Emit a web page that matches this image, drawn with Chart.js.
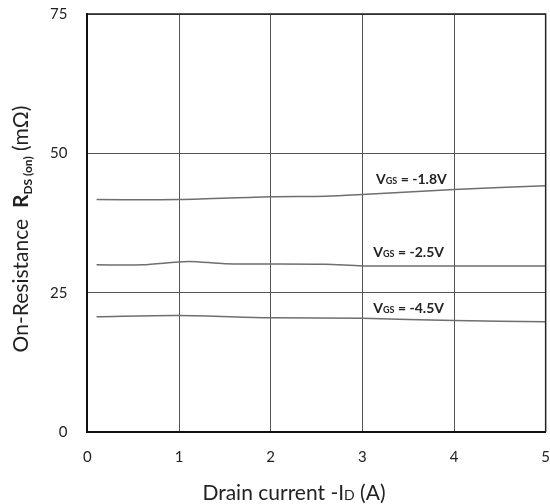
<!DOCTYPE html>
<html>
<head>
<meta charset="utf-8">
<script src="https://cdn.jsdelivr.net/npm/chart.js@4"></script>
<style>
  html, body { margin: 0; padding: 0; background: #fff; }
  #wrap { width: 550px; height: 504px; }
</style>
</head>
<body>
<div id="wrap"><canvas id="chart" width="550" height="504"></canvas></div>
<script>
"use strict";

// ── Data ───────────────────────────────────────────────────────────── //
const seriesNames = ["-1.8V", "-2.5V", "-4.5V"];

const idVgs18   = [0.1, 1.0, 2.0, 2.6, 3.0, 4.0, 5.0];
const rdsVgs18  = [41.7, 41.7, 42.2, 42.3, 42.6, 43.5, 44.2];

const idVgs25   = [0.1, 0.6, 1.1, 1.5, 2.6, 3.0, 4.0, 5.0];
const rdsVgs25  = [30.0, 30.0, 30.6, 30.2, 30.1, 29.8, 29.8, 29.8];

const idVgs45   = [0.1, 1.0, 2.0, 3.0, 4.0, 5.0];
const rdsVgs45  = [20.7, 20.9, 20.5, 20.4, 20.0, 19.8];

const xTicks = [0, 1, 2, 3, 4, 5];
const yTicks = [0, 25, 50, 75];

// where the V_GS notes sit, in data units
const noteX = [3.15, 3.12, 3.12];
const noteY = [45.4, 32.3, 22.3];

// ── Helpers ────────────────────────────────────────────────────────── //
const FONT = "Lato, 'Open Sans', sans-serif";
const toPoints = (xs, ys) => xs.map((x, i) => ({ x, y: ys[i] }));

function drawParts(ctx, parts, x, y) {
  // parts: [{ text, font, dy }] drawn left to right from x on baseline y
  let cx = x;
  parts.forEach(p => {
    ctx.font = p.font;
    ctx.fillText(p.text, cx, y + (p.dy || 0));
    cx += ctx.measureText(p.text).width;
  });
}

function partsWidth(ctx, parts) {
  return parts.reduce((w, p) => { ctx.font = p.font; return w + ctx.measureText(p.text).width; }, 0);
}

// ── Rich text plugin: axis titles + curve notes ────────────────────── //
const richText = {
  id: "richText",
  afterDraw(chart) {
    const { ctx, scales } = chart;
    ctx.save();
    ctx.fillStyle = "#222";
    ctx.textBaseline = "alphabetic";

    // x title
    const xParts = [
      { text: "Drain current -I", font: `21px ${FONT}` },
      { text: "D", font: `14px ${FONT}` },
      { text: " (A)", font: `21px ${FONT}` },
    ];
    const xw = partsWidth(ctx, xParts);
    drawParts(ctx, xParts, 294 - xw / 2, 500);

    // y title, rotated
    const yParts = [
      { text: "On-Resistance  ", font: `21px ${FONT}` },
      { text: "R", font: `bold 21px ${FONT}` },
      { text: "DS (on)", font: `bold 12px ${FONT}`, dy: 4 },
      { text: " (mΩ)", font: `21px ${FONT}` },
    ];
    const yw = partsWidth(ctx, yParts);
    ctx.save();
    ctx.translate(28, 229);
    ctx.rotate(-Math.PI / 2);
    drawParts(ctx, yParts, -yw / 2, 0);
    ctx.restore();

    // V_GS notes
    seriesNames.forEach((name, i) => {
      const px = scales.x.getPixelForValue(noteX[i]);
      const py = scales.y.getPixelForValue(noteY[i]);
      drawParts(ctx, [
        { text: "V", font: `bold 14px ${FONT}` },
        { text: "GS", font: `bold 9px ${FONT}` },
        { text: " = " + name, font: `bold 14px ${FONT}` },
      ], px, py + 5);
    });

    ctx.restore();
  },
};

// ── Chart ──────────────────────────────────────────────────────────── //
const lineStyle = {
  borderColor: "#6e6e6e",
  borderWidth: 1.5,
  pointRadius: 0,
  tension: 0.3,
  fill: false,
};

// transparent tick marks give the label gap without padding the chart edges
const gridStyle = (len) => ({
  color: "#555", lineWidth: 1, drawTicks: true, tickLength: len, tickColor: "rgba(0,0,0,0)",
});

new Chart(document.getElementById("chart"), {
  type: "scatter",
  data: {
    datasets: [
      { label: seriesNames[0], data: toPoints(idVgs18, rdsVgs18), showLine: true, ...lineStyle },
      { label: seriesNames[1], data: toPoints(idVgs25, rdsVgs25), showLine: true, ...lineStyle },
      { label: seriesNames[2], data: toPoints(idVgs45, rdsVgs45), showLine: true, ...lineStyle },
    ],
  },
  options: {
    responsive: false,
    animation: false,
    layout: { autoPadding: false, padding: { left: 50, right: 0, top: 14, bottom: 38 } },
    plugins: {
      legend: { display: false },
      tooltip: { enabled: false },
    },
    scales: {
      x: {
        type: "linear",
        min: 0, max: 5,
        afterBuildTicks: axis => { axis.ticks = xTicks.map(v => ({ value: v })); },
        ticks: { color: "#222", font: { family: FONT, size: 15 }, padding: 0, maxRotation: 0 },
        grid: gridStyle(16),
        border: { color: "#111", width: 2 },
      },
      y: {
        type: "linear",
        min: 0, max: 75,
        afterBuildTicks: axis => { axis.ticks = yTicks.map(v => ({ value: v })); },
        ticks: { color: "#222", font: { family: FONT, size: 15 }, padding: 0 },
        grid: gridStyle(20),
        border: { color: "#111", width: 2 },
      },
    },
  },
  plugins: [
    richText,
    {
      id: "frame",
      afterDraw(chart) {
        const { ctx, chartArea: a } = chart;
        ctx.save();
        ctx.strokeStyle = "#222";
        ctx.lineWidth = 1.5;
        ctx.beginPath();
        ctx.moveTo(a.left, a.top);
        ctx.lineTo(a.right, a.top);
        ctx.lineTo(a.right, a.bottom);
        ctx.stroke();
        ctx.restore();
      },
    },
  ],
});
</script>
</body>
</html>
